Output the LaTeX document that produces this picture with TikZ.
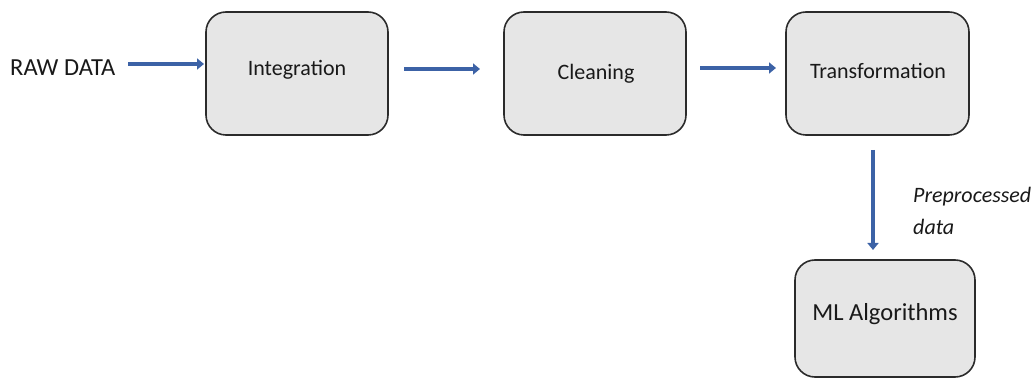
\documentclass[tikz,border=0pt]{standalone}
\usepackage{fontspec}
\setmainfont{Carlito}
\usetikzlibrary{arrows.meta}
\definecolor{boxfill}{HTML}{E6E6E6}
\definecolor{boxdraw}{HTML}{2B2B2B}
\definecolor{arrowblue}{HTML}{3C62A6}
\tikzset{
  stage/.style={draw=boxdraw, fill=boxfill, line width=1.6pt, rounded corners=20pt},
  flow/.style={draw=arrowblue, line width=4.5pt, -{Triangle[length=7pt,width=11pt]}},
  boxtext/.style={font=\fontsize{22}{26}\selectfont, text=black!90},
}
\begin{document}
\begin{tikzpicture}[x=1pt,y=-1pt]
\useasboundingbox (0,0) rectangle (1034,379);
% boxes
\draw[stage] (206,12) rectangle (388,135);
\draw[stage] (504,12) rectangle (686,135);
\draw[stage] (786,12) rectangle (969,135);
\draw[stage] (795,260) rectangle (975,377);
\node[boxtext] (integ) at (297,70) {Integration};
\node[boxtext] (clean) at (596,74) {Cleaning};
\node[boxtext] (trans) at (878,71) {Transformation};
\node[font=\fontsize{24.5}{28}\selectfont, text=black!90] (ml) at (885,314) {ML Algorithms};
\node[font=\fontsize{24.5}{28}\selectfont, text=black!90, anchor=west, inner sep=0pt] (raw) at (10,68) {RAW DATA};
\node[font=\fontsize{22}{32}\selectfont\itshape, text=black!90, anchor=west, align=left, inner sep=0pt] (lbl) at (913,211) {Preprocessed\\data};
% arrows
\coordinate (a1s) at (128,64); \coordinate (a1e) at (204,64);
\coordinate (a2s) at (404,69); \coordinate (a2e) at (480,69);
\coordinate (a3s) at (700,68); \coordinate (a3e) at (776,68);
\coordinate (a4s) at (873,150); \coordinate (a4e) at (873,250);
\draw[flow] (a1s) -- (a1e);
\draw[flow] (a2s) -- (a2e);
\draw[flow] (a3s) -- (a3e);
\draw[flow] (a4s) -- (a4e);
\end{tikzpicture}
\end{document}
